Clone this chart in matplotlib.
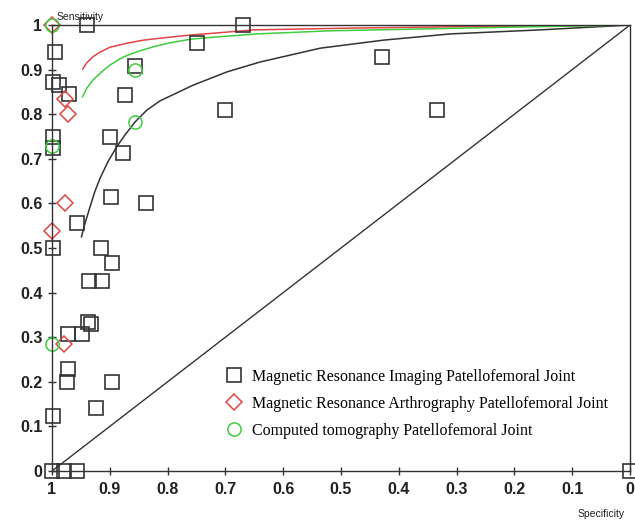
import matplotlib
matplotlib.use("Agg")
import matplotlib.pyplot as plt

# study points (specificity, sensitivity)
mri_spec = [0.94, 0.67, 0.995, 0.998, 0.988, 0.971, 0.856, 0.874, 0.749, 0.70,
            0.998, 0.998, 0.90, 0.877, 0.898, 0.837, 0.957, 0.998, 0.915, 0.429,
            0.334, 0.896, 0.936, 0.913, 0.938, 0.933, 0.972, 0.948, 0.972, 0.974,
            0.896, 0.924, 0.998, 1.0, 0.979, 0.957, 0.0]
mri_sens = [1.0, 1.0, 0.94, 0.872, 0.865, 0.845, 0.908, 0.843, 0.96, 0.81,
            0.749, 0.724, 0.749, 0.713, 0.614, 0.60, 0.556, 0.5, 0.5, 0.928,
            0.809, 0.466, 0.426, 0.426, 0.333, 0.330, 0.307, 0.307, 0.229, 0.2,
            0.2, 0.141, 0.123, 0.0, 0.0, 0.0, 0.0]

mra_spec = [1.0, 0.977, 0.972, 0.977, 1.0, 0.979]
mra_sens = [1.0, 0.833, 0.80, 0.60, 0.538, 0.285]

ct_spec = [1.0, 0.856, 0.856, 1.0, 1.0]
ct_sens = [1.0, 0.90, 0.783, 0.729, 0.285]

# SROC curves, points
mri_curve_spec = [0.949, 0.943, 0.934, 0.926, 0.917, 0.903, 0.888, 0.874, 0.856,
                  0.836, 0.813, 0.756, 0.697, 0.640, 0.536, 0.427, 0.311, 0.156,
                  0.0]
mri_curve_sens = [0.525, 0.555, 0.593, 0.626, 0.656, 0.694, 0.727, 0.753, 0.783,
                  0.809, 0.830, 0.865, 0.895, 0.917, 0.948, 0.966, 0.980, 0.989,
                  1.0]

mra_curve_spec = [0.947, 0.940, 0.929, 0.917, 0.900, 0.871, 0.842, 0.802, 0.756,
                  0.698, 0.652, 0.484, 0.311, 0.0]
mra_curve_sens = [0.901, 0.915, 0.929, 0.939, 0.950, 0.959, 0.966, 0.972, 0.978,
                  0.984, 0.989, 0.993, 0.996, 1.0]

ct_curve_spec = [0.947, 0.940, 0.929, 0.914, 0.900, 0.877, 0.853, 0.825, 0.796,
                 0.761, 0.727, 0.686, 0.646, 0.519, 0.363, 0.173, 0.0]
ct_curve_sens = [0.839, 0.858, 0.877, 0.895, 0.910, 0.928, 0.940, 0.951, 0.960,
                 0.968, 0.972, 0.976, 0.980, 0.987, 0.991, 0.996, 1.0]

labels = ["Magnetic Resonance Imaging Patellofemoral Joint",
          "Magnetic Resonance Arthrography Patellofemoral Joint",
          "Computed tomography Patellofemoral Joint"]

black = "#333333"
red = "#e04545"
green = "#3fcc3f"

fig = plt.figure(figsize=(6.35, 5.2), dpi=100)
ax = fig.add_axes([52 / 635, 49 / 520, 578 / 635, 446 / 520])

# chance line
ax.plot([1, 0], [0, 1], color=black, lw=1)

ax.plot(mri_curve_spec, mri_curve_sens, color=black, lw=1.1)
ax.plot(mra_curve_spec, mra_curve_sens, color=red, lw=1.1)
ax.plot(ct_curve_spec, ct_curve_sens, color=green, lw=1.1)

ax.plot(mri_spec, mri_sens, ls="none", marker="s", ms=9.5, mfc="none",
        mec=black, mew=1.2, clip_on=False, label=labels[0])
ax.plot(mra_spec, mra_sens, ls="none", marker="D", ms=8.5, mfc="none",
        mec=red, mew=1.1, clip_on=False, label=labels[1])
ax.plot(ct_spec, ct_sens, ls="none", marker="o", ms=9.5, mfc="none",
        mec=green, mew=1.1, clip_on=False, label=labels[2])

ax.set_xlim(1, 0)
ax.set_ylim(0, 1)
ax.set_xticks([1, 0.9, 0.8, 0.7, 0.6, 0.5, 0.4, 0.3, 0.2, 0.1, 0])
ax.set_xticklabels(["1", "0.9", "0.8", "0.7", "0.6", "0.5", "0.4", "0.3",
                    "0.2", "0.1", "0"])
ax.set_yticks([0, 0.1, 0.2, 0.3, 0.4, 0.5, 0.6, 0.7, 0.8, 0.9, 1])
ax.set_yticklabels(["0", "0.1", "0.2", "0.3", "0.4", "0.5", "0.6", "0.7",
                    "0.8", "0.9", "1"])
ax.tick_params(direction="inout", length=6, width=1, color=black,
               labelsize=11.5)
ax.tick_params(axis="x", pad=5)
ax.tick_params(axis="y", pad=4)
for lab in ax.get_xticklabels() + ax.get_yticklabels():
    lab.set_fontfamily("Liberation Sans")
    lab.set_fontweight("bold")
    lab.set_color("#222222")
for s in ax.spines.values():
    s.set_color(black)
    s.set_linewidth(1)

fig.text(80 / 635, 1 - 17 / 520, "Sensitivity", fontsize=7.5, ha="center",
         va="center", family="Liberation Sans", color="#222222")
fig.text(601 / 635, 1 - 514 / 520, "Specificity", fontsize=7.5, ha="center",
         va="center", family="Liberation Sans", color="#222222")

ax.legend(loc="upper left", bbox_to_anchor=(0.29, 0.244), frameon=False,
          prop={"family": "Liberation Serif", "size": 11.5},
          handlelength=1, handletextpad=0.6, labelspacing=0.7,
          borderaxespad=0)

fig.savefig("out.png", dpi=100)
